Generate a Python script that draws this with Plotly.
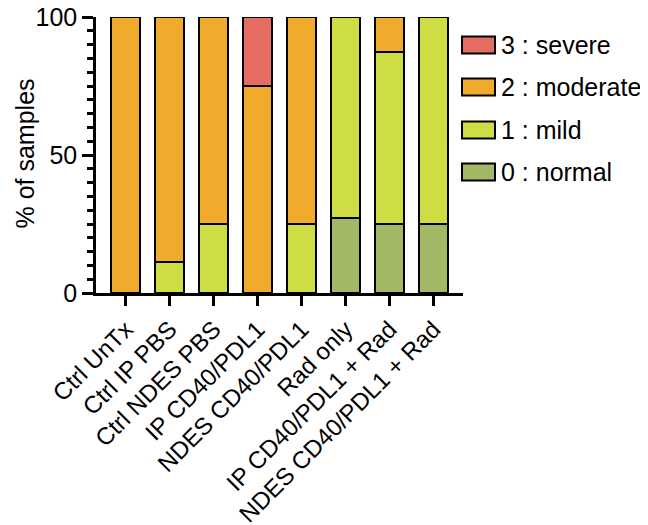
import plotly.graph_objects as go

categories = ["Ctrl UnTx", "Ctrl IP PBS", "Ctrl NDES PBS", "IP CD40/PDL1",
              "NDES CD40/PDL1", "Rad only", "IP CD40/PDL1 + Rad",
              "NDES CD40/PDL1 + Rad"]
normal = [0, 0, 0, 0, 0, 27.3, 25, 25]
mild = [0, 11.1, 25, 0, 25, 72.7, 62.5, 75]
moderate = [100, 88.9, 75, 75, 75, 0, 12.5, 0]
severe = [0, 0, 0, 25, 0, 0, 0, 0]

series_names = ["0 : normal", "1 : mild", "2 : moderate", "3 : severe"]
series_values = [normal, mild, moderate, severe]
series_colors = ["#A2B865", "#CFDD45", "#F0AA2C", "#E46C62"]
y_title = "% of samples"

FONT = "Liberation Sans, Arial, sans-serif"
OFF = 8  # browser body margin
W, H = 648 - OFF, 525 - OFF
# plot area in page pixels: x 96..463, y 17..293
ML, MT = 96 - OFF, 17 - OFF
MR = W - (463 - OFF)
MB = H - (293 - OFF)
PW = W - ML - MR
PH = H - MT - MB


def px_x(px):
    return (px - OFF - ML) / PW


def px_y(py):
    return 1 - (py - OFF - MT) / PH


fig = go.Figure()
for name, vals, col in zip(series_names, series_values, series_colors):
    fig.add_trace(go.Bar(
        x=categories,
        y=[v if v != 0 else None for v in vals],
        name=name,
        width=0.66,
        marker=dict(color=col, line=dict(color="black", width=2)),
        showlegend=False,
    ))

# manual legend (severe on top)
row_px = [45, 87, 130, 172]
for i, (name, col) in enumerate(zip(series_names[::-1], series_colors[::-1])):
    yc = px_y(row_px[i])
    hh = 8.5 / PH
    fig.add_shape(type="rect", xref="paper", yref="paper",
                  x0=px_x(462), x1=px_x(495), y0=yc - hh, y1=yc + hh,
                  fillcolor=col, line=dict(color="black", width=2))
    fig.add_annotation(xref="paper", yref="paper", x=px_x(499), y=yc,
                       xanchor="left", yanchor="middle", text=name,
                       showarrow=False, font=dict(size=25, color="black", family=FONT))

# y-axis title
fig.add_annotation(xref="paper", yref="paper", x=px_x(24), y=px_y(153.5),
                   xanchor="center", yanchor="middle", text=y_title, textangle=-90,
                   showarrow=False, font=dict(size=25, color="black", family=FONT))

fig.update_layout(
    barmode="stack",
    width=W, height=H,
    margin=dict(l=ML, r=MR, t=MT, b=MB),
    plot_bgcolor="white", paper_bgcolor="white",
    font=dict(family=FONT, size=25, color="black"),
)
fig.update_xaxes(
    range=[-0.68, 7.67], showline=True, linecolor="black", linewidth=2.5,
    ticks="outside", ticklen=10, tickwidth=2.5, tickcolor="black",
    tickangle=-45, showgrid=False, zeroline=False, automargin=False,
    tickfont=dict(size=24, color="black"),
)
fig.update_yaxes(
    range=[0, 100], tickvals=[0, 50, 100], showline=True, linecolor="black",
    linewidth=2.5, ticks="outside", ticklen=11, tickwidth=2.5, tickcolor="black",
    minor=dict(dtick=5, ticks="outside", ticklen=6, tickwidth=2.5, tickcolor="black"),
    showgrid=False, zeroline=False, automargin=False,
    ticklabeloverflow="allow",
    tickfont=dict(size=25, color="black"),
)

fig.write_html("out.html")
